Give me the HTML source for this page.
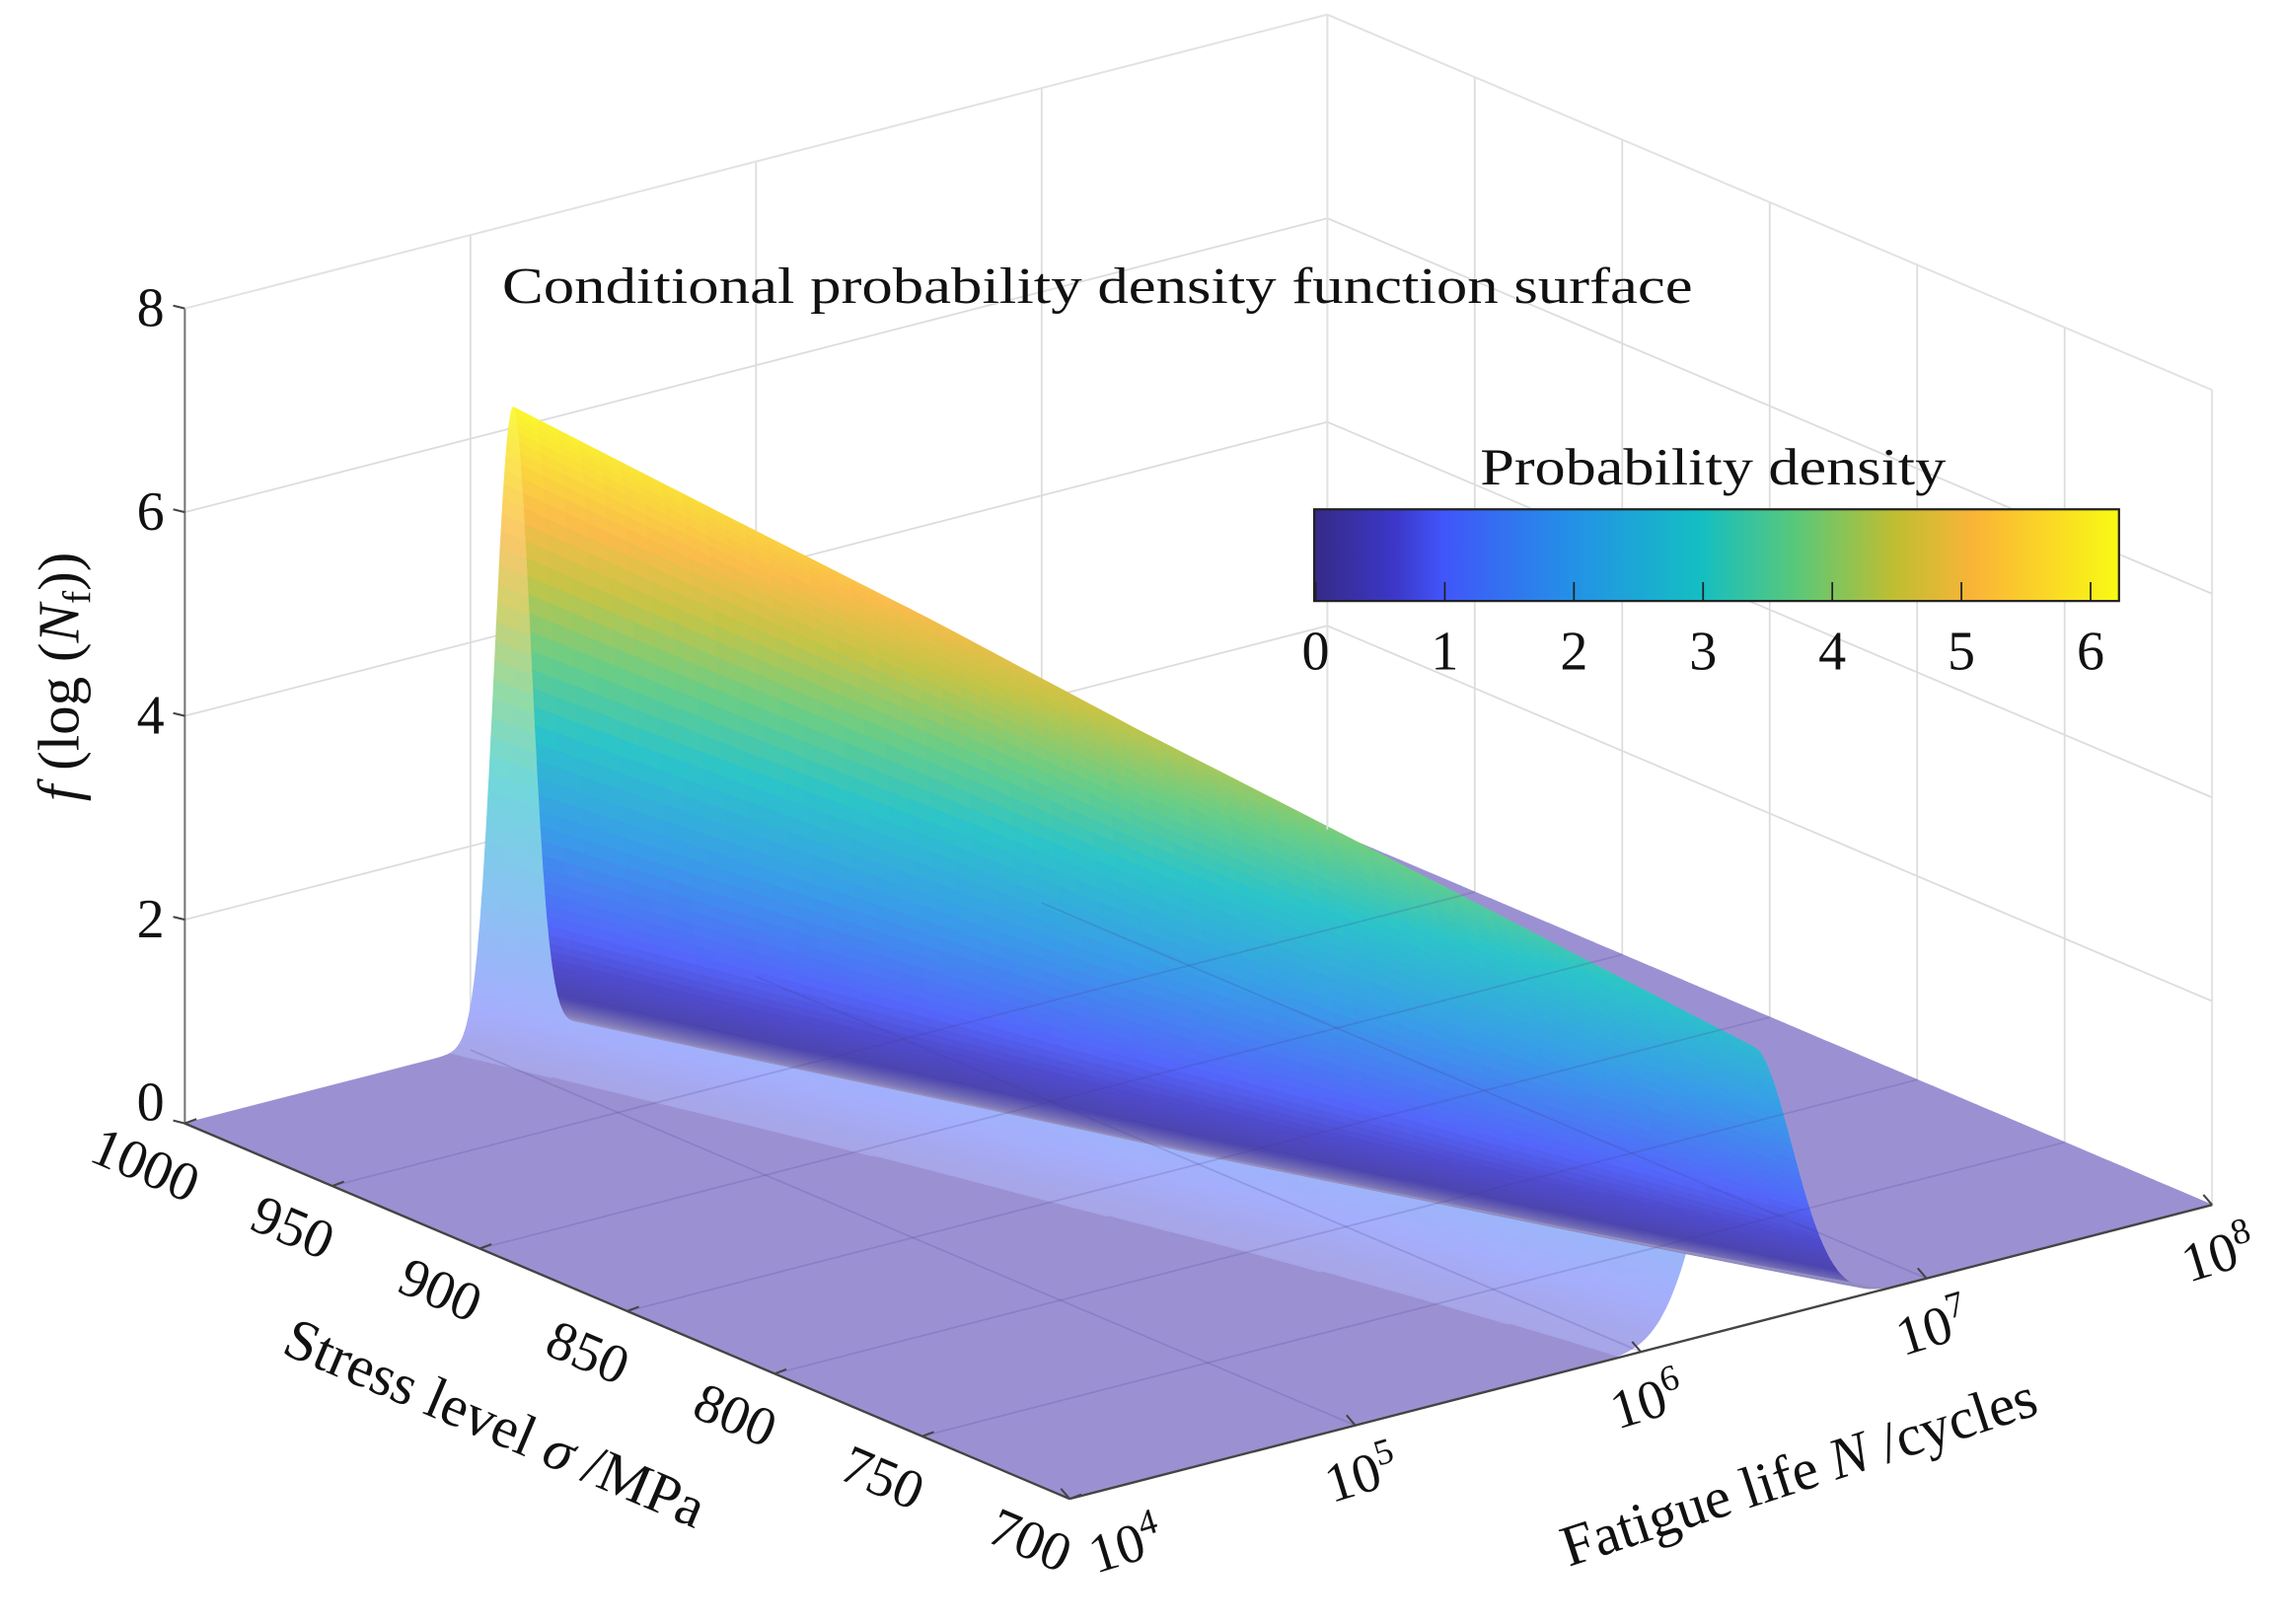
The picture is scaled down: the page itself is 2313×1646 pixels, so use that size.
<!DOCTYPE html>
<html><head><meta charset="utf-8"><title>Conditional PDF surface</title>
<style>html,body{margin:0;padding:0;background:#fff}svg{display:block}text{font-family:"Liberation Serif",serif;fill:#111}</style>
</head><body>
<svg id="chart" width="2313" height="1646" viewBox="0 0 1568 1116" preserveAspectRatio="none" xmlns="http://www.w3.org/2000/svg">
<defs>
<linearGradient id="cbgrad" x1="0" x2="1" y1="0" y2="0">
<stop offset="0" stop-color="rgb(53,42,135)"/><stop offset="0.1" stop-color="rgb(60,55,200)"/><stop offset="0.16" stop-color="rgb(65,85,250)"/><stop offset="0.32" stop-color="rgb(35,145,230)"/><stop offset="0.48" stop-color="rgb(20,190,195)"/><stop offset="0.6" stop-color="rgb(90,200,120)"/><stop offset="0.72" stop-color="rgb(190,190,50)"/><stop offset="0.82" stop-color="rgb(250,180,55)"/><stop offset="1" stop-color="rgb(249,250,20)"/>
</linearGradient>
</defs>
<g id="backgrid"></g>
<g id="surface"></g>
<g id="floorgrid"></g>
<g id="axes"></g>
<text x="345" y="208" font-size="35" textLength="818" lengthAdjust="spacingAndGlyphs">Conditional probability density function surface</text>
<g>
<text x="1177" y="333" font-size="36" text-anchor="middle" textLength="320" lengthAdjust="spacingAndGlyphs">Probability density</text>
<rect x="903" y="350" width="553" height="63" fill="url(#cbgrad)" stroke="#222" stroke-width="1.5"/>
<g id="cbticks"></g>
</g>
<text transform="translate(54,465) rotate(-90)" font-size="40" text-anchor="middle"><tspan font-style="italic">f</tspan> (log (<tspan font-style="italic">N</tspan><tspan font-size="27" dy="8">f</tspan><tspan dy="-8">))</tspan></text>
<text transform="translate(335,990) rotate(23)" font-size="40" text-anchor="middle">Stress  level <tspan font-style="italic">σ</tspan> /MPa</text>
<text transform="translate(1240,1024) rotate(-18)" font-size="40" text-anchor="middle">Fatigue life <tspan font-style="italic">N</tspan> /cycles</text>
</svg>
<script>
// ---- data ----
const stress = [1000, 950, 900, 850, 800, 750, 700];
const meanLogN = [5.15, 5.36, 5.57, 5.77, 5.98, 6.18, 6.38];
const peakDensity = [6.2, 5.62, 5.05, 4.45, 3.87, 3.3, 2.72];
const zTicks = [0, 2, 4, 6, 8];
const stressTicks = [1000, 950, 900, 850, 800, 750, 700];
const lifeTickExp = [4, 5, 6, 7, 8];
const cbTicks = [0, 1, 2, 3, 4, 5, 6];

const NS = 'http://www.w3.org/2000/svg';
const cmapMax = 6.22;
function uOf(logN){ return logN - 4; }
function vOf(s){ return (1000 - s) / 50; }
function P(u, v, z){ return [127 + 196.25*u + 101.33*v, 772 - 50.5*u + 43*v - 70*z]; }
function interp(arr, v){ const i = Math.min(5, Math.max(0, Math.floor(v))); const t = v - i; return arr[i]*(1-t) + arr[i+1]*t; }
function mk(tag, attrs, parent){ const e = document.createElementNS(NS, tag); for (const k in attrs) e.setAttribute(k, attrs[k]); parent.appendChild(e); return e; }

const stops = [[0,53,42,135],[0.1,60,55,200],[0.16,65,85,250],[0.32,35,145,230],[0.48,20,190,195],[0.6,90,200,120],[0.72,190,190,50],[0.82,250,180,55],[1,249,250,20]];
function parula(t){ t=Math.max(0,Math.min(1,t)); for(let i=1;i<stops.length;i++){ if(t<=stops[i][0]){ const a=stops[i-1], b=stops[i]; const f=(t-a[0])/(b[0]-a[0]); return [a[1]+(b[1]-a[1])*f, a[2]+(b[2]-a[2])*f, a[3]+(b[3]-a[3])*f]; } } return stops[stops.length-1].slice(1); }
function mixW(c, a){ return 'rgb(' + c.map(x => Math.round(255 - a*(255-x))).join(',') + ')'; }

const bg = document.getElementById('backgrid');
function line(g, a, b, stroke, w, name){ const l = mk('line', {x1:a[0], y1:a[1], x2:b[0], y2:b[1], stroke:stroke, 'stroke-width':w}, g);
  
   return l; }
const gc = '#dcdcdc';
for (const z of zTicks){ if (z===0) continue; line(bg, P(0,0,z), P(4,0,z), gc, 1.2, 'back-wall-hline'); line(bg, P(4,0,z), P(4,6,z), gc, 1.2, 'side-wall-hline'); }
for (const e of lifeTickExp){ line(bg, P(uOf(e),0,0), P(uOf(e),0,8), gc, 1.2, 'back-wall-vline'); }
for (const s of stressTicks){ line(bg, P(4,vOf(s),0), P(4,vOf(s),8), gc, 1.2, 'side-wall-vline'); }

// ---- surface (grid aligned with the ridge) ----
const surf = document.getElementById('surface');
const floorCol = 'rgb(155,145,210)';
const dv = 0.1, dt = 0.05, T = 6;
const nv = Math.round(6/dv), nt = Math.round(2*T/dt);
function params(v){ const p = interp(peakDensity, v); const m = uOf(interp(meanLogN, v)); const s = 1/(Math.sqrt(2*Math.PI)*p); return [m, s, p]; }
function vert(t, v){ const [m, s, p] = params(v); return [m + t*s, p*Math.exp(-0.5*t*t)]; }
const floorQ = [], frontQ = [], backQ = [];
for (let j = 0; j < nv; j++){
  const v0 = j*dv, v1 = (j+1)*dv;
  const L0 = vert(-T, v0)[0], L1 = vert(-T, v1)[0], R0 = vert(T, v0)[0], R1 = vert(T, v1)[0];
  floorQ.push({pts:[P(0,v0,0),P(L0,v0,0),P(L1,v1,0),P(0,v1,0)], fill:floorCol});
  floorQ.push({pts:[P(R0,v0,0),P(4,v0,0),P(4,v1,0),P(R1,v1,0)], fill:floorCol});
  for (let i = 0; i < nt; i++){
    const ta = -T + i*dt, tb = ta + dt;
    const a0 = vert(ta,v0), b0 = vert(tb,v0), b1 = vert(tb,v1), a1 = vert(ta,v1);
    const zc = (a0[1]+b0[1]+b1[1]+a1[1])/4;
    const tc = (ta+tb)/2;
    const pts = [P(a0[0],v0,a0[1]),P(b0[0],v0,b0[1]),P(b1[0],v1,b1[1]),P(a1[0],v1,a1[1])];
    if (zc < 0.02) { floorQ.push({pts:pts, fill:floorCol}); continue; }
    if (tc < 0) {
      const a = Math.min(0.8, 0.45 + 0.06*zc);
      frontQ.push({pts:pts, fill:mixW(parula(0.1 + 0.9*zc/cmapMax), a), j:j, t:tc});
    } else {
      const a = 0.5 + 0.4*Math.min(1, zc/0.3);
      backQ.push({pts:pts, fill:mixW(parula(zc/cmapMax), a), j:j, t:tc});
    }
  }
}
frontQ.sort((a,b) => (a.j - b.j) || (b.t - a.t));
backQ.sort((a,b) => (b.j - a.j) || (a.t - b.t));
function draw(list, name){
  for (const q of list){
    const el = mk('path', {d:'M' + q.pts.map(p => p[0].toFixed(1)+','+p[1].toFixed(1)).join('L') + 'Z', fill:q.fill, stroke:q.fill, 'stroke-width':0.7}, surf);
    
    
  }
}
draw(floorQ, 'floor-patch');
draw(frontQ, 'surface-front-patch');
draw(backQ, 'surface-back-patch');

// ---- floor grid ----
const fg = document.getElementById('floorgrid');
const fgc = 'rgba(70,60,140,0.2)';
for (const e of lifeTickExp.slice(1,4)) line(fg, P(uOf(e),0,0), P(uOf(e),6,0), fgc, 1.2, 'floor-grid-line');
for (const s of stressTicks.slice(1,6)) line(fg, P(0,vOf(s),0), P(4,vOf(s),0), fgc, 1.2, 'floor-grid-line');

// ---- axes ----
const ax = document.getElementById('axes');
line(ax, P(0,0,0), P(0,0,8), '#777', 1.4, 'z-axis-line');
line(ax, P(0,0,0), P(0,6,0), '#444', 1.6, 'stress-axis-line');
line(ax, P(0,6,0), P(4,6,0), '#444', 1.6, 'life-axis-line');
line(ax, P(4,6,0), P(4,6,8), '#e2e2e2', 1.2, 'box-edge');
line(ax, P(0,0,8), P(4,0,8), '#e2e2e2', 1.2, 'box-edge');
line(ax, P(4,0,8), P(4,6,8), '#e2e2e2', 1.2, 'box-edge');
line(ax, P(4,0,0), P(4,0,8), '#e2e2e2', 1.2, 'box-edge');
function txt(parent, x, y, str, size, extra){ const t = mk('text', Object.assign({x:x, y:y, 'font-size':size}, extra||{}), parent); t.textContent = str; return t; }
for (const z of zTicks){
  const p = P(0,0,z);
  line(ax, p, [p[0]-8, p[1]-2], '#444', 1.4, 'z-tick');
  const t = txt(ax, p[0]-14, p[1] + (z===0 ? -2 : 12), String(z), 38, {'text-anchor':'end'});
  
  
}
for (const s of stressTicks){
  const p = P(0,vOf(s),0);
  line(ax, p, [p[0]+8, p[1]-3], '#444', 1.4, 'stress-tick');
  const cx = p[0]-32, cy = p[1]+40;
  const t = txt(ax, 0, 0, String(s), 38, {'text-anchor':'middle', transform:'translate('+cx.toFixed(1)+','+cy.toFixed(1)+') rotate(23)'});
  
  
}
for (const e of lifeTickExp){
  const p = P(uOf(e),6,0);
  line(ax, p, [p[0]-6, p[1]-7], '#444', 1.4, 'life-tick');
  const off = e===4 ? [42,44] : [8,46];
  const t = mk('text', {x:0, y:0, 'font-size':38, 'text-anchor':'middle', transform:'translate('+(p[0]+off[0]).toFixed(1)+','+(p[1]+off[1]).toFixed(1)+') rotate(-17)'}, ax);
  
  
  t.appendChild(document.createTextNode('10'));
  const sp = document.createElementNS(NS, 'tspan'); sp.setAttribute('dy', '-15'); sp.setAttribute('font-size', '25'); sp.textContent = String(e); t.appendChild(sp);
}
const cb = document.getElementById('cbticks');
for (const c of cbTicks){
  const x = 904 + (1456-904)*c/cmapMax;
  line(cb, [x,413], [x,400], '#222', 1.2, 'colorbar-tick');
  const t = txt(cb, x, 460, String(c), 38, {'text-anchor':'middle'});
  
  
}
</script>
</body></html>
